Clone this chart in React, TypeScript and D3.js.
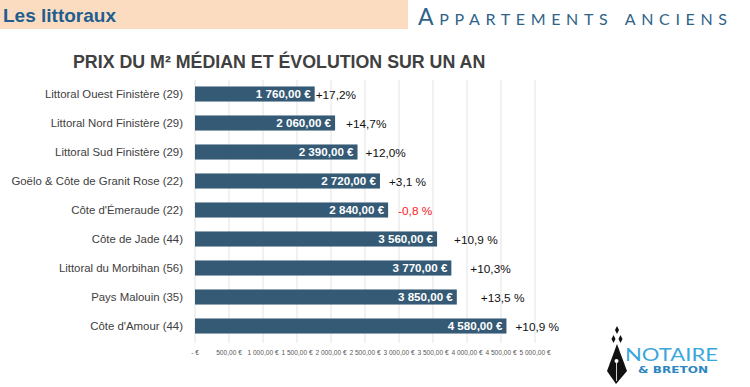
import React from "react";
import * as d3 from "d3";

// regions, top to bottom
const regions = [
  "Littoral Ouest Finistère (29)",
  "Littoral Nord Finistère (29)",
  "Littoral Sud Finistère (29)",
  "Goëlo & Côte de Granit Rose (22)",
  "Côte d'Émeraude (22)",
  "Côte de Jade (44)",
  "Littoral du Morbihan (56)",
  "Pays Malouin (35)",
  "Côte d'Amour (44)",
];
const prices = [1760, 2060, 2390, 2720, 2840, 3560, 3770, 3850, 4580];
const evolutions = ["+17,2%", "+14,7%", "+12,0%", "+3,1 %", "-0,8 %", "+10,9 %", "+10,3%", "+13,5 %", "+10,9 %"];
const tickValues = [0, 500, 1000, 1500, 2000, 2500, 3000, 3500, 4000, 4500, 5000];
const tickLabels = [
  "-   €", "500,00 €", "1 000,00 €", "1 500,00 €", "2 000,00 €", "2 500,00 €",
  "3 000,00 €", "3 500,00 €", "4 000,00 €", "4 500,00 €", "5 000,00 €",
];

// gap between bar end and the % label (placed by hand in the original)
const pctGap = [1, 11, 8, 9, 10, 17, 19, 24, 9];

const fr = d3.formatLocale({ decimal: ",", thousands: "\u00a0", grouping: [3], currency: ["", "\u00a0€"] });
const fmtPrice = fr.format("$,.2f");

export default function App() {
  const x = d3.scaleLinear().domain([0, 5000]).range([195, 535]);
  const y = d3.scaleBand().domain(regions).range([79.5, 340.5]).paddingInner(0.48).paddingOuter(0.24);
  const font = "'Liberation Sans', Arial, sans-serif";

  return (
    <svg width={750} height={387} style={{ position: "absolute", left: 0, top: 0, background: "#fff" }}>
      {/* header */}
      <rect x={0} y={0} width={408} height={29} fill="#fcdcc0" />
      <text x={3} y={22} fontFamily={font} fontWeight="bold" fontSize={19} fill="#215e8f">Les littoraux</text>
      <text x={418} y={25} fontFamily="Lato, 'DejaVu Sans', sans-serif" fontWeight={400} fontSize={23}
        fill="#2f6388" style={{ fontVariant: "small-caps" }} textLength={309} lengthAdjust="spacing">
        Appartements anciens
      </text>

      <text x={73} y={68} fontFamily={font} fontWeight="bold" fontSize={17.8} fill="#404040">
        PRIX DU M² MÉDIAN ET ÉVOLUTION SUR UN AN
      </text>

      {/* grid */}
      {tickValues.map((t) => (
        <line key={t} x1={x(t)} x2={x(t)} y1={80} y2={343} stroke="#e3e3e3" strokeWidth={1} />
      ))}

      {/* bars */}
      {regions.map((r, i) => {
        const yc = (y(r) as number) + y.bandwidth() / 2;
        const neg = evolutions[i].startsWith("-");
        return (
          <g key={r}>
            <text x={183} y={yc + 4} textAnchor="end" fontFamily={font} fontSize={11.4} fill="#404040">{r}</text>
            <rect x={x(0)} y={y(r)} width={x(prices[i]) - x(0)} height={y.bandwidth()} fill="#345a75" />
            <text x={x(prices[i]) - 4} y={yc + 4} textAnchor="end" fontFamily={font} fontWeight="bold"
              fontSize={11.6} fill="#fff">{fmtPrice(prices[i])}</text>
            <text x={x(prices[i]) + pctGap[i]} y={yc + 4.5} fontFamily={font} fontSize={11.8}
              fill={neg ? "#ff1a1a" : "#111"}>{evolutions[i]}</text>
          </g>
        );
      })}

      {/* x axis labels */}
      {tickValues.map((t, i) => (
        <text key={t} x={x(t)} y={355} textAnchor="middle" fontFamily={font} fontSize={6.6}
          fill="#595959">{tickLabels[i]}</text>
      ))}

      {/* logo */}
      <g fill="#111">
        <path d="M617,326 L619,330 L617,334 L615,330 Z" />
        <path d="M613.5,335 L615.5,339 L613.5,343 L611.5,339 Z" />
        <path d="M620.5,335 L622.5,339 L620.5,343 L618.5,339 Z" />
        <path d="M617,344 L627,371 L616,384 L607,371 Z" />
      </g>
      <circle cx={616.5} cy={361} r={2} fill="#fff" />
      <line x1={616.5} x2={616.5} y1={362} y2={381} stroke="#fff" strokeWidth={0.8} />
      <text x={625} y={361} fontFamily="Lato, 'DejaVu Sans', sans-serif" fontWeight={400} fontSize={18}
        fill="#3aa7dc" textLength={93} lengthAdjust="spacingAndGlyphs">NOTAIRE</text>
      <text x={638} y={373} fontFamily="'DejaVu Sans', sans-serif" fontWeight={600} fontSize={9.5}
        fill="#2e86c1" textLength={70} lengthAdjust="spacingAndGlyphs">&amp; BRETON</text>
    </svg>
  );
}
